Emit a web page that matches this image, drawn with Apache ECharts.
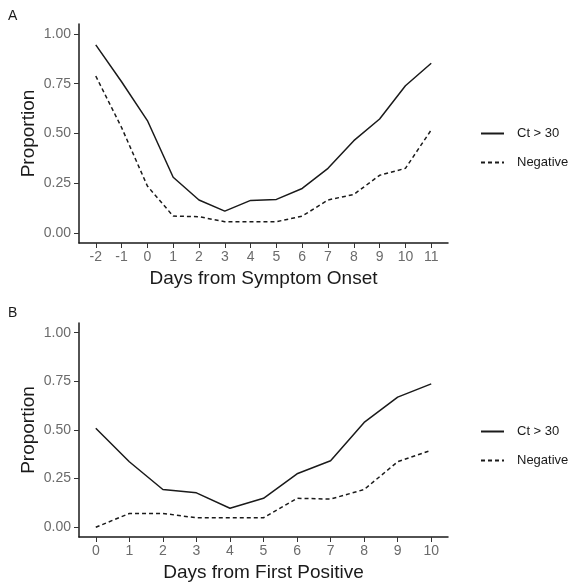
<!DOCTYPE html>
<html>
<head>
<meta charset="utf-8">
<script src="https://cdn.jsdelivr.net/npm/echarts@6/dist/echarts.min.js"></script>
<style>
  html, body { margin: 0; padding: 0; background: #fff; }
  #chart { width: 576px; height: 583px; }
</style>
</head>
<body>
<div id="chart"></div>
<script>
// panel A: days relative to symptom onset
const daysOnset = [-2, -1, 0, 1, 2, 3, 4, 5, 6, 7, 8, 9, 10, 11];
const onsetCt = [0.945, 0.76, 0.565, 0.28, 0.166, 0.11, 0.164, 0.169, 0.224, 0.325, 0.464, 0.573, 0.74, 0.853];
const onsetNeg = [0.789, 0.53, 0.236, 0.085, 0.082, 0.057, 0.057, 0.057, 0.085, 0.166, 0.194, 0.29, 0.325, 0.518];

// panel B: days relative to first positive
const daysPositive = [0, 1, 2, 3, 4, 5, 6, 7, 8, 9, 10];
const positiveCt = [0.509, 0.337, 0.194, 0.177, 0.098, 0.149, 0.275, 0.342, 0.539, 0.669, 0.737];
const positiveNeg = [0.0, 0.071, 0.071, 0.049, 0.049, 0.049, 0.149, 0.145, 0.194, 0.337, 0.396];

const yTicks = [0, 0.25, 0.5, 0.75, 1];
const seriesNames = ['Ct > 30', 'Negative'];

const font = 'Liberation Sans, Arial, Helvetica, sans-serif';
const ink = '#1a1a1a';

const pairs = (xs, ys) => xs.map((x, i) => [x, ys[i]]);

function xAxisFor(idx, days, title) {
  const pad = (days[days.length - 1] - days[0]) * 0.05;
  return {
    type: 'value',
    gridIndex: idx,
    min: days[0] - pad,
    max: days[days.length - 1] + pad,
    name: title,
    nameLocation: 'middle',
    nameGap: 26,
    nameMoveOverlap: false,
    nameTextStyle: { fontFamily: font, fontSize: 19, color: ink },
    splitLine: { show: false },
    axisLine: { onZero: false, lineStyle: { color: ink, width: 1.5 } },
    axisTick: { customValues: days, length: 5, lineStyle: { color: '#333' } },
    axisLabel: { customValues: days, margin: 7, fontFamily: font, fontSize: 14, color: '#6b6b6b' },
  };
}

function yAxisFor(idx) {
  return {
    type: 'value',
    gridIndex: idx,
    min: -0.05,
    max: 1.05,
    name: 'Proportion',
    nameLocation: 'middle',
    nameGap: 41,
    nameMoveOverlap: false,
    nameTextStyle: { fontFamily: font, fontSize: 19, color: ink },
    splitLine: { show: false },
    axisLine: { show: true, onZero: false, lineStyle: { color: ink, width: 1.5 } },
    axisTick: { show: true, customValues: yTicks, length: 5, lineStyle: { color: '#333' } },
    axisLabel: {
      customValues: yTicks, margin: 8, fontFamily: font, fontSize: 14, color: '#6b6b6b',
      formatter: (v) => v.toFixed(2),
    },
  };
}

function lineSeries(name, idx, data, dashed) {
  return {
    name: name,
    type: 'line',
    xAxisIndex: idx,
    yAxisIndex: idx,
    data: data,
    symbol: 'none',
    silent: true,
    lineStyle: { color: ink, width: 1.5, type: dashed ? [4, 3] : 'solid' },
    itemStyle: { color: ink },
  };
}

function legendFor(top) {
  return {
    data: seriesNames,
    orient: 'vertical',
    left: 480,
    top: top,
    padding: 0,
    itemWidth: 23,
    itemHeight: 14,
    itemGap: 16,
    itemStyle: { opacity: 0 },
    lineStyle: { width: 2 },
    textStyle: { fontFamily: font, fontSize: 13, color: ink, padding: [0, 0, 0, 8] },
  };
}

const chart = echarts.init(document.getElementById('chart'));
chart.setOption({
  animation: false,
  backgroundColor: '#fff',
  title: [
    { text: 'A', left: 8, top: 9, padding: 0, textStyle: { fontFamily: font, fontSize: 14, fontWeight: 'normal', color: ink } },
    { text: 'B', left: 8, top: 306, padding: 0, textStyle: { fontFamily: font, fontSize: 14, fontWeight: 'normal', color: ink } },
  ],
  legend: [legendFor(127), legendFor(425)],
  grid: [
    { left: 79, top: 24, width: 369, height: 219 },
    { left: 79, top: 323, width: 369, height: 217 },
  ],
  xAxis: [
    xAxisFor(0, daysOnset, 'Days from Symptom Onset'),
    xAxisFor(1, daysPositive, 'Days from First Positive'),
  ],
  yAxis: [yAxisFor(0), yAxisFor(1)],
  series: [
    lineSeries(seriesNames[0], 0, pairs(daysOnset, onsetCt), false),
    lineSeries(seriesNames[1], 0, pairs(daysOnset, onsetNeg), true),
    lineSeries(seriesNames[0], 1, pairs(daysPositive, positiveCt), false),
    lineSeries(seriesNames[1], 1, pairs(daysPositive, positiveNeg), true),
  ],
});
</script>
</body>
</html>
